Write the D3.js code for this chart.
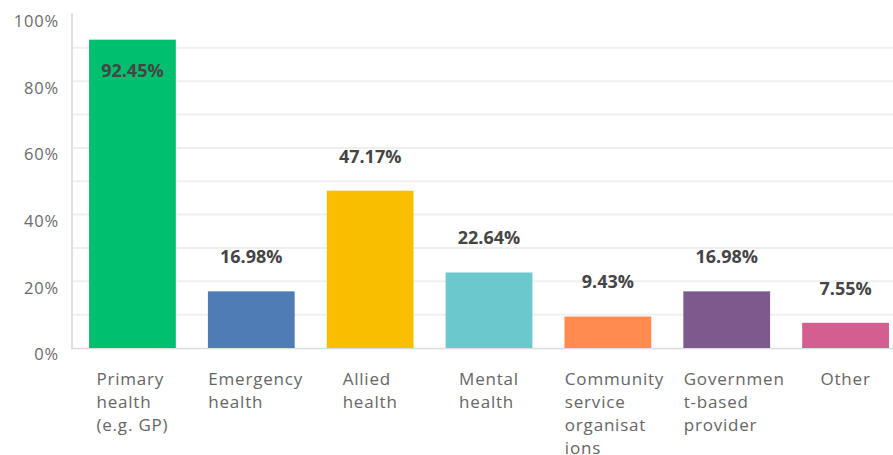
<!DOCTYPE html>
<html>
<head>
<meta charset="utf-8">
<script src="https://cdn.jsdelivr.net/npm/d3@7"></script>
<style>
  html, body { margin: 0; padding: 0; background: #fff; }
  svg { display: block; }
</style>
</head>
<body>
<svg id="chart" width="893" height="455"></svg>
<script>
const categories = ["Primary health (e.g. GP)", "Emergency health", "Allied health", "Mental health", "Community service organisations", "Government-based provider", "Other"];
const categoryLines = [
  ["Primary", "health", "(e.g. GP)"],
  ["Emergency", "health"],
  ["Allied", "health"],
  ["Mental", "health"],
  ["Community", "service", "organisat", "ions"],
  ["Governmen", "t-based", "provider"],
  ["Other"]
];
const values = [92.45, 16.98, 47.17, 22.64, 9.43, 16.98, 7.55];
const colors = ["#00bf6f", "#507cb6", "#f9be00", "#6bc8cd", "#ff8b4f", "#7d5a8e", "#d25f90"];
const yTicks = [0, 20, 40, 60, 80, 100];
const gridTicks = [10, 20, 30, 40, 50, 60, 70, 80, 90];

const svg = d3.select("#chart");
const x = d3.scaleBand().domain(categories).range([73, 905]).paddingInner(0.27).paddingOuter(0.135);
const y = d3.scaleLinear().domain([0, 100]).range([348, 14.5]);
const font = "'Open Sans', 'Noto Sans', sans-serif";

// gridlines
svg.append("g").selectAll("line").data(gridTicks).join("line")
  .attr("x1", 73).attr("x2", 893)
  .attr("y1", d => y(d)).attr("y2", d => y(d))
  .attr("stroke", "#efefef").attr("stroke-width", 2);

// y axis line
svg.append("line").attr("x1", 72).attr("x2", 72).attr("y1", 13).attr("y2", 349)
  .attr("stroke", "#e0e0e0").attr("stroke-width", 2);
// baseline
svg.append("line").attr("x1", 71).attr("x2", 893).attr("y1", 348.5).attr("y2", 348.5)
  .attr("stroke", "#dcdcdc").attr("stroke-width", 1.5);

// y tick labels
svg.append("g").selectAll("text").data(yTicks).join("text")
  .attr("x", 59).attr("y", d => y(d) + 8)
  .attr("text-anchor", "end").attr("dominant-baseline", "middle")
  .attr("font-family", font).attr("font-size", 16.5).attr("letter-spacing", 0.8)
  .attr("fill", "#6b6b6b")
  .text(d => d + "%");

// bars
svg.append("g").selectAll("rect").data(values).join("rect")
  .attr("x", (d, i) => x(categories[i]))
  .attr("width", x.bandwidth())
  .attr("y", d => y(d))
  .attr("height", d => y(0) - y(d))
  .attr("fill", (d, i) => colors[i]);

// value labels
svg.append("g").selectAll("text").data(values).join("text")
  .attr("x", (d, i) => x(categories[i]) + x.bandwidth() / 2)
  .attr("y", d => d > 85 ? y(d) + 33 : y(d) - 33)
  .attr("text-anchor", "middle").attr("dominant-baseline", "middle")
  .attr("font-family", font).attr("font-size", 18).attr("font-weight", 700)
  .attr("fill", "#454545")
  .text(d => d.toFixed(2) + "%");

// category labels (left-aligned block centered on band)
const catG = svg.append("g");
categories.forEach((c, i) => {
  const cx = x(c) + x.bandwidth() / 2;
  const t = catG.append("text")
    .attr("font-family", font).attr("font-size", 17).attr("letter-spacing", 0.8)
    .attr("fill", "#666");
  categoryLines[i].forEach((ln, j) => {
    t.append("tspan").attr("y", 380 + j * 23).attr("dominant-baseline", "middle").text(ln);
  });
  let maxW = 0;
  t.selectAll("tspan").each(function() { maxW = Math.max(maxW, this.getComputedTextLength()); });
  const start = cx - Math.min(maxW, 86) / 2;
  t.selectAll("tspan").attr("x", start);
});
</script>
</body>
</html>
